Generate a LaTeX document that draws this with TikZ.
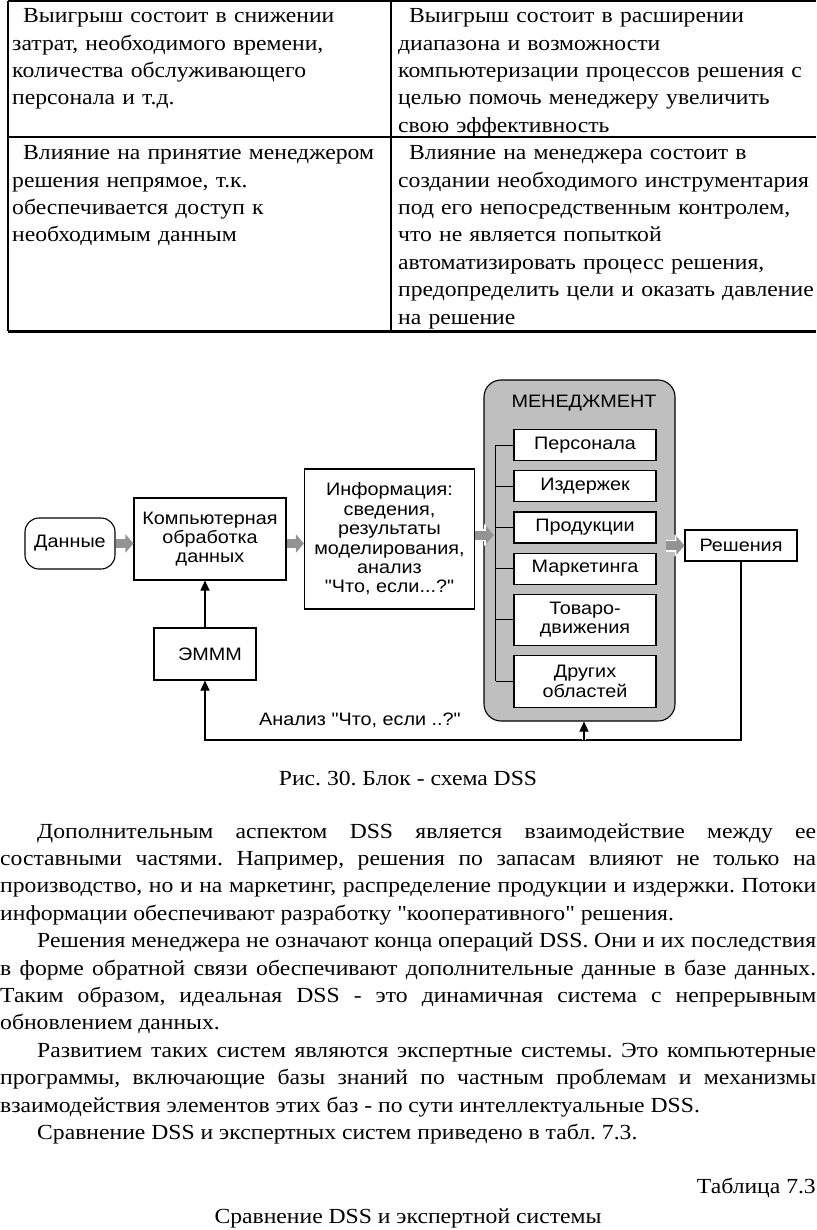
\documentclass[tikz,border=0pt]{standalone}
\usepackage{fontspec}
\setmainfont{Liberation Serif}[FakeStretch=1.1, Ligatures=TeXOff]
\setsansfont{Liberation Sans}[FakeStretch=1.1, Ligatures=TeXOff]
\usetikzlibrary{arrows.meta,positioning,calc}
\frenchspacing
\newcommand{\bodyfnt}{\fontsize{21.5}{27.4}\selectfont}
\newcommand{\diafnt}{\sffamily\fontsize{18}{19.4}\selectfont}
\tikzstyle{cell} = [anchor=north west, inner sep=0pt, align=left, text width=430pt, font=\bodyfnt]
\tikzstyle{block} = [rectangle, draw, line width=1.1pt, fill=white, align=center, font=\diafnt, inner sep=0pt]
\tikzstyle{sub} = [block, minimum width=142pt, minimum height=31pt]
\tikzstyle{mgmt} = [rectangle, draw, line width=1.1pt, fill=gray!50, rounded corners=17pt, minimum width=191pt, minimum height=341pt]
\tikzstyle{fat} = [draw=gray!85, line width=9pt, -{Triangle[length=8pt,width=18pt]}, preaction={draw=white, line width=12pt, -{Triangle[length=10pt,width=22pt]}}]
\tikzstyle{line} = [draw, line width=1.1pt, -{Triangle[length=10pt,width=9pt]}]
\tikzstyle{tab} = [line width=1.3pt]
\begin{document}
\begin{tikzpicture}[x=1pt,y=-1pt]
    \useasboundingbox[fill=white] (0,0) rectangle (816,1230);
    % table rows
    \draw[tab] (8,1) -- (816,1);
    \draw[tab] (8,1) -- (8,331);
    \draw[tab] (391,1) -- (391,331);
    \draw[tab] (8,137) -- (816,137);
    \draw[line width=3pt] (8,331) -- (816,331);
    \node[cell] (gainl) at (12,3.3) {\strut\hspace*{11pt}Выигрыш состоит в снижении\\затрат, необходимого времени,\\количества обслуживающего\\персонала и т.д.};
    \node[cell] (gainr) at (398,3.3) {\strut\hspace*{11pt}Выигрыш состоит в расширении\\диапазона и возможности\\компьютеризации процессов решения с\\целью помочь менеджеру увеличить\\свою эффективность};
    \node[cell] (infll) at (12,140.3) {\strut\hspace*{11pt}Влияние на принятие менеджером\\решения непрямое, т.к.\\обеспечивается доступ к\\необходимым данным};
    \node[cell] (inflr) at (398,140.3) {\strut\hspace*{11pt}Влияние на менеджера состоит в\\создании необходимого инструментария\\под его непосредственным контролем,\\что не является попыткой\\автоматизировать процесс решения,\\предопределить цели и оказать давление\\на решение};
    % block diagram
    \node[block, rounded corners=14pt, minimum width=90pt, minimum height=51pt] (dan) at (70,543.5) {Данные};
    \node[block, minimum width=152pt, minimum height=82pt] (comp) at (210,539) {Компьютерная\\обработка\\данных};
    \node[block, minimum width=170pt, minimum height=140pt] (info) at (389.5,539) {Информация:\\сведения,\\результаты\\моделирования,\\анализ\\"Что, если...?"};
    \node[mgmt] (man) at (579.5,550.5) {};
    \node[font=\diafnt] (mantitle) at (584,403) {МЕНЕДЖМЕНТ};
    \node[sub] (pers) at (585,445.3) {Персонала};
    \node[sub, below=9pt of pers] (izd) {Издержек};
    \node[sub, below=9pt of izd] (prod) {Продукции};
    \node[sub, below=9pt of prod] (mark) {Маркетинга};
    \node[sub, minimum height=51pt, below=9pt of mark] (tov) {Товаро-\\движения};
    \node[sub, minimum height=52pt, below=9pt of tov] (dr) {Других\\областей};
    \node[block, minimum width=112pt, minimum height=31pt] (res) at (741,545.5) {Решения};
    \node[block, minimum width=102pt, minimum height=52pt] (emmm) at (205,654) {\hspace*{10pt}ЭМММ};
    \node[font=\diafnt, anchor=base west, inner sep=0pt] (fblab) at (259,725) {Анализ "Что, если ..?"};
    \coordinate (brk) at (495.6,0);
    \coordinate (inarr) at (494,535);
    \coordinate (fb) at (0,740);
    \draw[line width=1.1pt] (pers.west -| brk) -- (dr.west -| brk);
    \foreach \s in {pers,izd,prod,mark,tov,dr}
        \draw[line width=1.1pt] (\s.west) -- (\s.west -| brk);
    \draw[fat] (dan.east) -- (dan.east -| comp.west);
    \draw[fat] (dan.east -| comp.east) -- (dan.east -| info.west);
    \draw[fat] (inarr -| info.east) -- (inarr);
    \draw[fat] ($(res.west)+(-18,0)$) -- (res.west);
    \draw[line] (emmm.north) -- (emmm.north |- comp.south);
    \draw[line] (res.south) -- (res.south |- fb) -| (emmm.south);
    \draw[line, preaction={draw=white, line width=4pt}] ($(man.south |- fb)+(4.5,0)$) -- ($(man.south)+(4.5,0)$);
    % caption and text
    \node[font=\bodyfnt, anchor=base, inner sep=0pt] (cap) at (408,785) {Рис. 30. Блок - схема DSS};
    \node[anchor=north west, inner sep=0pt, text width=816pt, align=justify, font=\bodyfnt] (txt) at (0,818.8) {\strut\hspace*{37pt}Дополнительным аспектом DSS является взаимодействие между ее\linebreak составными частями. Например, решения по запасам влияют не только на\linebreak производство, но и на маркетинг, распределение продукции и издержки. Потоки\linebreak информации обеспечивают разработку "кооперативного" решения.\par
    \hspace*{37pt}Решения менеджера не означают конца операций DSS. Они и их последствия\linebreak в форме обратной связи обеспечивают дополнительные данные в базе данных.\linebreak Таким образом, идеальная DSS - это динамичная система с непрерывным\linebreak обновлением данных.\par
    \hspace*{37pt}Развитием таких систем являются экспертные системы. Это компьютерные\linebreak программы, включающие базы знаний по частным проблемам и механизмы\linebreak взаимодействия элементов этих баз - по сути интеллектуальные DSS.\par
    \hspace*{37pt}Сравнение DSS и экспертных систем приведено в табл. 7.3.};
    \node[font=\bodyfnt, anchor=base east, inner sep=0pt] (tabno) at (816,1193) {Таблица 7.3};
    \node[font=\bodyfnt, anchor=base, inner sep=0pt] (tabtitle) at (408,1223) {Сравнение DSS и экспертной системы};
\end{tikzpicture}
\end{document}
